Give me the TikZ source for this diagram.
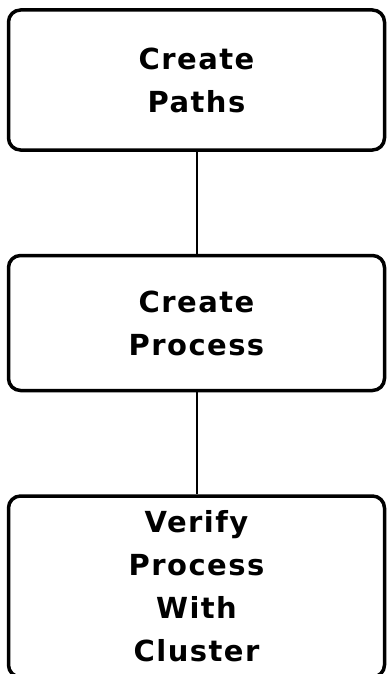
\documentclass[tikz,border=0pt]{standalone}
\usepackage{fontspec}
\setsansfont[LetterSpace=5]{DejaVu Sans}
\usepackage{tikz}
\usetikzlibrary{positioning}

\tikzset{
  stagebox/.style={draw, line width=3.5pt, rounded corners=12pt,
    minimum width=376pt, align=center, inner sep=0pt,
    font=\sffamily\bfseries\fontsize{29}{43}\selectfont},
  link/.style={line width=2pt}
}

\begin{document}
\begin{tikzpicture}[x=1pt,y=1pt,node distance=102pt]
		\useasboundingbox (0,0) rectangle (387,-674);
		\node[stagebox, minimum height=140pt] (paths) at (196.5,-80) {Create\\Paths};
		\node[stagebox, minimum height=135pt, below=of paths] (process) {Create\\Process};
		\node[stagebox, minimum height=181pt, below=of process] (verify) {Verify\\Process\\With\\Cluster};
		\draw[link] (paths) -- (process);
		\draw[link] (process) -- (verify);
	\end{tikzpicture}
\end{document}
